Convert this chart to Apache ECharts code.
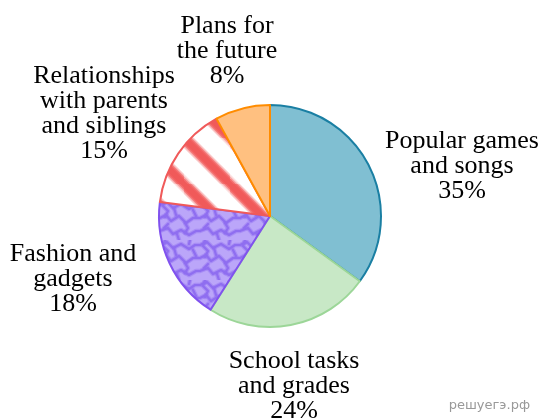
<!DOCTYPE html>
<html>
<head>
<meta charset="utf-8">
<script src="https://cdn.jsdelivr.net/npm/echarts@6/dist/echarts.min.js"></script>
<style>
  html, body { margin: 0; padding: 0; background: #fff; }
  #chart { width: 542px; height: 418px; }
</style>
</head>
<body>
<div id="chart"></div>
<script>
// topics and shares (%), clockwise from 12 o'clock
var topics = [
  'Popular games\nand songs',
  'School tasks\nand grades',
  'Fashion and\ngadgets',
  'Relationships\nwith parents\nand siblings',
  'Plans for\nthe future'
];
var shares = [35, 24, 18, 15, 8];

// where each label block is centred
var labelPos = [[462, 166], [294, 386], [73, 279], [104, 114], [227, 51]];

function stripeTile() {
  var p = 46;
  var c = document.createElement('canvas');
  c.width = p; c.height = p;
  var ctx = c.getContext('2d');
  ctx.fillStyle = '#fff';
  ctx.fillRect(0, 0, p, p);
  var segs = [[-p, -p, p, p], [0, 0, 2 * p, 2 * p], [-p, 0, p, 2 * p], [0, -p, 2 * p, p]];
  [[14, 'rgba(242,96,96,0.2)'], [11, 'rgba(242,96,96,0.45)'], [8, 'rgba(242,96,96,0.8)'], [5, '#f05a5a']].forEach(function (s) {
    ctx.lineWidth = s[0];
    ctx.strokeStyle = s[1];
    segs.forEach(function (g) {
      ctx.beginPath();
      ctx.moveTo(g[0], g[1]);
      ctx.lineTo(g[2], g[3]);
      ctx.stroke();
    });
  });
  return c;
}

function waveTile() {
  var s = 40;
  var c = document.createElement('canvas');
  c.width = s; c.height = s;
  var ctx = c.getContext('2d');
  ctx.fillStyle = '#bba6f9';
  ctx.fillRect(0, 0, s, s);
  var paths = [
    [[0, 5], [7, 2], [13, 8], [21, 4], [29, 9], [35, 5], [40, 5]],
    [[0, 18], [6, 15], [11, 21], [19, 16], [26, 23], [33, 18], [40, 18]],
    [[0, 31], [8, 28], [13, 34], [21, 30], [29, 35], [36, 31], [40, 31]],
    [[5, 0], [3, 6], [8, 11], [5, 17]],
    [[25, 23], [28, 28], [25, 33]],
    [[17, 34], [19, 40]], [[14, 8], [16, 15]], [[33, 10], [36, 16]],
    [[8, 24], [4, 28]], [[30, 0], [29, 4]]
  ];
  [[4.5, 'rgba(140,105,240,0.4)'], [2.2, '#8f6ef0']].forEach(function (st) {
    ctx.lineWidth = st[0];
    ctx.strokeStyle = st[1];
    ctx.lineJoin = 'round';
    ctx.lineCap = 'round';
    paths.forEach(function (pt) {
      ctx.beginPath();
      ctx.moveTo(pt[0][0], pt[0][1]);
      for (var i = 1; i < pt.length; i++) ctx.lineTo(pt[i][0], pt[i][1]);
      ctx.stroke();
    });
  });
  return c;
}

var fills = [
  '#80bfd2',
  '#c8e8c6',
  { image: waveTile(), repeat: 'repeat' },
  { image: stripeTile(), repeat: 'repeat' },
  '#ffc080'
];
var borders = ['#1a7fa3', '#9cd698', '#8052ee', '#f05a5a', '#ff8c00'];

var myChart = echarts.init(document.getElementById('chart'));
myChart.setOption({
  animation: false,
  series: [{
    type: 'pie',
    center: [270, 216],
    radius: 111,
    startAngle: 90,
    clockwise: true,
    avoidLabelOverlap: false,
    labelLine: { show: false },
    label: {
      show: true,
      position: 'outside',
      formatter: function (p) { return p.name + '\n' + p.value + '%'; },
      fontFamily: '"Liberation Serif", "Times New Roman", serif',
      fontSize: 26,
      lineHeight: 25,
      color: '#000',
      align: 'center'
    },
    labelLayout: function (params) {
      var pos = labelPos[params.dataIndex];
      return { x: pos[0], y: pos[1], align: 'center', verticalAlign: 'middle' };
    },
    emphasis: { disabled: true },
    data: topics.map(function (t, i) {
      return {
        name: t,
        value: shares[i],
        itemStyle: { color: fills[i], borderColor: borders[i], borderWidth: 2 }
      };
    })
  }],
  graphic: [{
    type: 'text',
    right: 12,
    bottom: 6,
    style: {
      text: 'решуегэ.рф',
      fill: '#999',
      font: '13px "DejaVu Sans", sans-serif'
    }
  }]
});
</script>
</body>
</html>
